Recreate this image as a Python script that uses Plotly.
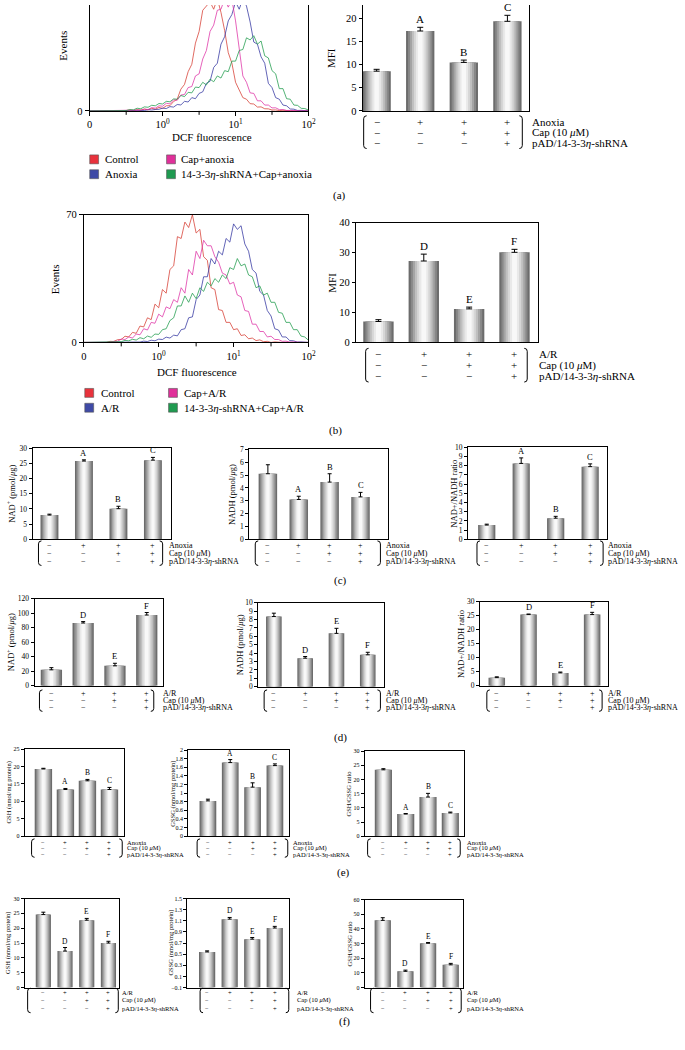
import plotly.graph_objects as go

W, H = 685, 1050
SERIF = "Liberation Serif"

# ------------------------------------------------------------------ data
dcf_log = [-1.00, -0.95, -0.90, -0.85, -0.80, -0.75, -0.70, -0.65, -0.60, -0.55,
           -0.50, -0.45, -0.40, -0.35, -0.30, -0.25, -0.20, -0.15, -0.10, -0.05,
           0.00, 0.05, 0.10, 0.15, 0.20, 0.25, 0.30, 0.35, 0.40, 0.45,
           0.50, 0.55, 0.60, 0.65, 0.70, 0.75, 0.80, 0.85, 0.90, 0.95,
           1.00, 1.05, 1.10, 1.15, 1.20, 1.25, 1.30, 1.35, 1.40, 1.45,
           1.50, 1.55, 1.60, 1.65, 1.70, 1.75, 1.80, 1.85, 1.90, 1.95, 2.00]

# panel (a) histograms (events; visible top of frame = 100)
a_control = [0, 0, 0, 0, 0, 0, 0, 0, 0.3, 0,
             0.4, 0.8, 0.2, 1.2, 0.6, 1.7, 0.9, 2.5, 1.5, 3.3,
             2.3, 4.8, 4.9, 8.8, 11, 20.5, 25, 37, 44, 64,
             75, 95, 99, 103, 96, 106, 93, 76, 55, 45,
             27, 20, 12.5, 11, 6.8, 6.5, 3.6, 3.8, 2.0, 1.9,
             0.8, 0.9, 0.3, 0.5, 0, 0.2, 0, 0, 0, 0, 0]
a_anoxia = [0, 0, 0, 0, 0, 0, 0, 0, 0, 0,
            0, 0, 0.2, 0.3, 0.6, 0.3, 1.1, 0.8, 1.3, 1.5,
            2.6, 2.2, 4.0, 3.6, 6.0, 5.6, 9.0, 8.4, 12.5, 11.5,
            16.5, 18, 26, 28, 41, 45, 63, 70, 85, 91,
            103, 96, 106, 99, 84, 65, 63, 51, 45, 26,
            22, 12.5, 11, 5.5, 4.8, 1.8, 1.6, 0.4, 0.5, 0, 0]
a_cap = [0, 0, 0, 0, 0, 0, 0, 0, 0, 0,
         0, 0.4, 0.3, 0.7, 0.8, 1.7, 1.3, 3.0, 2.6, 4.8,
         4.4, 7.2, 6.6, 10.5, 10, 15, 15.5, 22, 23, 33,
         35, 49, 57, 75, 81, 95, 96, 106, 98, 105,
         85, 58, 33, 27, 17, 16.5, 9.5, 9.5, 5.5, 5.5,
         2.8, 2.9, 1.2, 1.3, 0.4, 0.5, 0, 0.2, 0, 0, 0]
a_shrna = [0, 0, 0, 0, 0, 0, 0, 0, 0, 0.4,
           0.3, 1.2, 1.0, 2.5, 2.0, 3.8, 3.4, 5.3, 4.8, 7.0,
           6.5, 9.0, 8.6, 11.3, 11, 14.5, 13.5, 17.5, 17, 22.5,
           22, 27, 24.5, 30, 27.5, 33, 31, 38, 37, 47,
           47, 57, 58, 69, 67, 71, 63, 66, 52, 50,
           38, 35, 21, 21, 11.5, 11, 5.5, 5.2, 2.4, 2.2, 0.8]

# panel (b) histograms (events, 0-70)
b_control = [0, 0, 0, 0, 0, 0, 0, 0.6, 0.5, 1.5,
             1.6, 3.4, 3.0, 5.5, 5.0, 9.0, 8.5, 13.5, 12.5, 21,
             19, 29, 27, 40, 42, 58, 57, 66, 63, 70,
             60, 62, 47, 45, 30, 29, 18, 17.5, 11, 11,
             7, 7.5, 3.8, 4.2, 2.0, 2.4, 1.0, 1.4, 0.4, 0.6,
             0, 0.3, 0, 0, 0, 0, 0, 0, 0, 0, 0]
b_ar = [0, 0, 0, 0, 0, 0, 0, 0, 0, 0,
        0, 0, 0, 0, 0.3, 0.2, 0.7, 0.5, 1.2, 0.9,
        1.8, 1.6, 2.9, 2.4, 4.0, 3.6, 7.0, 7.5, 13.5, 14,
        23.5, 26, 36, 36, 46, 43, 50, 48, 57, 55,
        65, 62, 64, 54, 50, 40, 38, 28, 26, 17.5,
        14.5, 7.5, 6.8, 3, 3, 1, 0.9, 0.2, 0.3, 0, 0]
b_cap = [0, 0, 0, 0, 0, 0, 0, 0, 0.6, 0.6,
         1.9, 1.6, 3.0, 2.4, 4.6, 4.2, 7.5, 6.8, 11, 10.5,
         15.5, 14, 19.5, 18.5, 23.5, 22, 30, 27, 40, 37,
         50, 46, 56, 53, 53, 47, 44, 38, 37, 32,
         33, 26, 25, 17.5, 17, 10, 10, 6, 6, 3,
         3.4, 1.6, 1.6, 0.6, 0.7, 0.2, 0.3, 0, 0, 0, 0]
b_shrna = [0, 0, 0, 0, 0, 0, 0, 0, 0, 0.4,
           0.4, 1.1, 0.9, 1.7, 1.3, 2.6, 2.0, 3.5, 2.8, 4.6,
           4.4, 7, 7.5, 12, 13.5, 20, 20, 25.5, 22, 27,
           24, 30, 28, 33, 31, 35, 33, 37, 35, 41,
           40, 46, 42, 43, 37, 36, 30, 31, 26, 27,
           22, 22, 16.5, 16, 11, 11, 7, 7, 3.5, 3.0, 1.2]

hist_a_names = ["Control", "Anoxia", "Cap+anoxia", "14-3-3<i>η</i>-shRNA+Cap+anoxia"]
hist_b_names = ["Control", "A/R", "Cap+A/R", "14-3-3<i>η</i>-shRNA+Cap+A/R"]
hist_tickvals = [0.1, 1, 10, 100]
hist_ticktext = ["0", "10<sup>0</sup>", "10<sup>1</sup>", "10<sup>2</sup>"]

# bar panels: values, errors, letters
mfi_a = [8.6, 17.3, 10.5, 19.4];       mfi_a_err = [0.4, 0.8, 0.5, 1.3]
mfi_b = [7.0, 27.2, 11.2, 30.1];       mfi_b_err = [0.6, 2.3, 0.6, 1.0]
nad_c = [8.0, 25.8, 10.1, 26.1];       nad_c_err = [0.3, 0.4, 0.8, 0.9]
nadh_c = [5.1, 3.1, 4.45, 3.3];        nadh_c_err = [0.7, 0.25, 0.65, 0.35]
ratio_c = [1.55, 8.25, 2.3, 7.9];      ratio_c_err = [0.1, 0.6, 0.2, 0.3]
nad_d = [22.0, 86.5, 27.5, 97.5];      nad_d_err = [3.0, 2.0, 3.5, 3.5]
nadh_d = [8.35, 3.4, 6.35, 3.8];       nadh_d_err = [0.4, 0.2, 0.6, 0.3]
ratio_d = [2.9, 25.4, 4.6, 25.4];      ratio_d_err = [0.3, 0.2, 0.3, 0.8]
gsh_e = [19.3, 13.4, 15.9, 13.4];      gsh_e_err = [0.2, 0.3, 0.4, 0.6]
gssg_e = [0.82, 1.71, 1.14, 1.64];     gssg_e_err = [0.04, 0.07, 0.1, 0.04]
ratio_e = [23.4, 7.8, 13.8, 8.2];      ratio_e_err = [0.4, 0.2, 1.3, 0.3]
gsh_f = [24.6, 12.3, 22.7, 15.0];      gsh_f_err = [0.8, 1.2, 0.6, 0.6]
gssg_f = [0.54, 1.13, 0.77, 0.97];     gssg_f_err = [0.02, 0.03, 0.03, 0.03]
ratio_f = [45.8, 11.1, 30.2, 15.5];    ratio_f_err = [1.8, 0.8, 0.5, 1.0]

letters_anoxia = ["", "A", "B", "C"]
letters_ar = ["", "D", "E", "F"]
cond_signs = [["−", "+", "+", "+"], ["−", "−", "+", "+"], ["−", "−", "−", "+"]]
cond_anoxia = ["Anoxia", "Cap (10 <i>μ</i>M)", "pAD/14-3-3<i>η</i>-shRNA"]
cond_ar = ["A/R", "Cap (10 <i>μ</i>M)", "pAD/14-3-3<i>η</i>-shRNA"]

# ------------------------------------------------------------------ helpers
fig = go.Figure()
ann = []
shp = []
naxes = [0]


def PX(x):
    return x / W


def PY(y):
    return 1 - y / H


def add_text(x, y, s, size, xanchor="center", yanchor="middle", angle=0):
    ann.append(dict(
        x=PX(x), y=PY(y), xref="paper", yref="paper", text=s, showarrow=False,
        textangle=angle, xanchor=xanchor, yanchor=yanchor, borderpad=0,
        font=dict(family=SERIF, size=size, color="black")))


def new_axes(box, xaxis, yaxis):
    naxes[0] += 1
    n = naxes[0]
    s = "" if n == 1 else str(n)
    L, T, R, B = box
    xaxis = dict(xaxis, domain=[PX(L), PX(R)], anchor="y" + s)
    yaxis = dict(yaxis, domain=[PY(B), PY(T)], anchor="x" + s)
    fig.update_layout(**{"xaxis" + s: xaxis, "yaxis" + s: yaxis})
    return "x" + s, "y" + s


def vline(x, y0, y1, w=1):
    shp.append(dict(type="line", xref="paper", yref="paper", x0=PX(x), x1=PX(x),
                    y0=PY(y0), y1=PY(y1), line=dict(color="black", width=w)))


def bracket(x, y0, y1, side):
    d = 3 if side == "left" else -3
    path = (f"M {PX(x + d)},{PY(y0)} Q {PX(x)},{PY(y0)} {PX(x)},{PY(y0 + 3)} "
            f"L {PX(x)},{PY(y1 - 3)} Q {PX(x)},{PY(y1)} {PX(x + d)},{PY(y1)}")
    shp.append(dict(type="path", path=path, xref="paper", yref="paper",
                    line=dict(color="black", width=1)))


LAYERS = [(1.00, "#6c6c6c"), (0.86, "#888888"), (0.72, "#a4a4a4"), (0.58, "#bfbfbf"),
          (0.44, "#d6d6d6"), (0.30, "#e9e9e9"), (0.16, "#f8f8f8")]


def bar_panel(vals, errs, letters, box, xr, yr, dtick, barw, tfs, lfs, ylabel, ylab_dx,
              ylab_fs, rows_y, row_labels, lab_x, row_fs, brk, base=0.0, tick0=0,
              top_line=True, errw=2):
    L, T, R, B = box
    xref, yref = new_axes(
        box,
        dict(range=xr, showticklabels=False, ticks="", showgrid=False, zeroline=False,
             showline=True, linecolor="black", linewidth=1, mirror=top_line, fixedrange=True),
        dict(range=yr, tick0=tick0, dtick=dtick, tickmode="linear", ticks="outside",
             ticklen=3, tickwidth=1, tickcolor="black", showgrid=False, zeroline=False,
             showline=True, linecolor="black", linewidth=1, mirror=True,
             tickfont=dict(family=SERIF, size=tfs, color="black"), fixedrange=True))
    cats = list(range(len(vals)))
    for i, (f, c) in enumerate(LAYERS):
        last = i == len(LAYERS) - 1
        fig.add_trace(go.Bar(
            x=cats, y=[v - base for v in vals], base=base, width=barw * f,
            marker=dict(color=c, line=dict(width=0)), xaxis=xref, yaxis=yref,
            showlegend=False, hoverinfo="skip",
            error_y=dict(type="data", array=errs, arrayminus=[0] * len(errs),
                         symmetric=False, color="black", thickness=1, width=errw,
                         visible=last)))
    for i, (v, e, t) in enumerate(zip(vals, errs, letters)):
        if t:
            ann.append(dict(x=i, y=v + e, xref=xref, yref=yref, text=t, showarrow=False,
                            yanchor="bottom", yshift=1, borderpad=0,
                            font=dict(family=SERIF, size=lfs, color="black")))
    add_text(L - ylab_dx, (T + B) / 2, ylabel, ylab_fs, angle=-90)
    for r, row in enumerate(cond_signs):
        for i, s in enumerate(row):
            ann.append(dict(x=i, y=PY(rows_y[r]), xref=xref, yref="paper", text=s,
                            showarrow=False, borderpad=0, yanchor="middle",
                            font=dict(family=SERIF, size=row_fs, color="black")))
        add_text(lab_x, rows_y[r], row_labels[r], row_fs, xanchor="left")
    gap = (rows_y[1] - rows_y[0]) * 0.55
    bracket(brk[0], rows_y[0] - gap, rows_y[2] + gap, "left")
    bracket(brk[1], rows_y[0] - gap, rows_y[2] + gap, "right")


def hist_panel(box, yr, ytickvals, yticktext, series, top_line):
    L, T, R, B = box
    xref, yref = new_axes(
        box,
        dict(type="log", range=[-1, 2], tickvals=hist_tickvals, ticktext=hist_ticktext,
             ticks="outside", ticklen=4, tickcolor="black",
             showline=True, linecolor="black", linewidth=1, mirror=top_line,
             showgrid=False, zeroline=False, fixedrange=True,
             tickfont=dict(family=SERIF, size=10.5, color="black")),
        dict(range=yr, tickvals=ytickvals, ticktext=yticktext, ticks="outside", ticklen=4,
             tickcolor="black", showline=True, linecolor="black", linewidth=1, mirror=True,
             showgrid=False, zeroline=False, fixedrange=True,
             tickfont=dict(family=SERIF, size=10.5, color="black")))
    # half-decade minor ticks
    dec = (R - L) / 3.0
    for k in range(3):
        vline(L + (k + 0.5) * dec, B, B + 4)
    xs = [10 ** v for v in dcf_log]
    for ys, col in series:
        fig.add_trace(go.Scatter(x=xs, y=ys, mode="lines", xaxis=xref, yaxis=yref,
                                 line=dict(color=col, width=0.9), showlegend=False,
                                 hoverinfo="skip"))


LINE_COLS = ["rgba(214,60,50,0.85)", "rgba(50,52,160,0.85)",
             "rgba(222,50,165,0.85)", "rgba(30,155,75,0.85)"]
LEG_COLS = ["#e8323c", "#3f4aa6", "#e0309a", "#1f9a50"]


def legend(names, x1, x2, tx1, tx2, y1, y2):
    pos = [(x1, tx1, y1), (x1, tx1, y2), (x2, tx2, y1), (x2, tx2, y2)]
    for (sx, tx, y), name, col in zip(pos, names, LEG_COLS):
        shp.append(dict(type="rect", xref="paper", yref="paper",
                        x0=PX(sx), x1=PX(sx + 9), y0=PY(y + 4.5), y1=PY(y - 4.5),
                        fillcolor=col, line=dict(color="#555555", width=0.6)))
        add_text(tx, y, name, 11, xanchor="left")


# ------------------------------------------------------------------ panel (a)
hist_panel((88, 0, 310, 107), [0, 100], [0], ["0"],
           [(a_control, LINE_COLS[0]), (a_anoxia, LINE_COLS[1]),
            (a_cap, LINE_COLS[2]), (a_shrna, LINE_COLS[3])], top_line=False)
add_text(60, 41, "Events", 11, angle=-90)
add_text(212, 133, "DCF fluorescence", 11)
legend(hist_a_names, 88, 166, 103, 180, 156, 171)

bar_panel(mfi_a, mfi_a_err, letters_anoxia, (365, 0, 534, 107), [-0.32, 3.5], [0, 22.93], 5,
          0.65, 10.5, 11, "MFI", 32, 11, [118, 129, 139], cond_anoxia, 536, 11,
          (366, 527), top_line=False, errw=3)
add_text(341, 193, "(a)", 11)

# ------------------------------------------------------------------ panel (b)
hist_panel((82, 212, 310, 341), [0, 70], [0, 70], ["0", "70"],
           [(b_control, LINE_COLS[0]), (b_ar, LINE_COLS[1]),
            (b_cap, LINE_COLS[2]), (b_shrna, LINE_COLS[3])], top_line=True)
add_text(53, 277, "Events", 11, angle=-90)
add_text(197, 371, "DCF fluorescence", 11)
legend(hist_b_names, 83, 168, 98, 183, 392, 407)

bar_panel(mfi_b, mfi_b_err, letters_ar, (358, 220, 543, 341), [-0.5, 3.52], [0, 40], 10,
          0.67, 10.5, 11, "MFI", 25, 11, [353, 364, 375], cond_ar, 543, 11,
          (368, 532), errw=3)
add_text(337, 430, "(b)", 11)

# ------------------------------------------------------------------ panel (c)
yl_nad = "NAD<sup>+</sup> (pmol/<i>μ</i>g)"
yl_nadh = "NADH (pmol/<i>μ</i>g)"
yl_ratio = "NAD+/NADH ratio"
bar_panel(nad_c, nad_c_err, letters_anoxia, (30, 448, 170, 540), [-0.49, 3.51], [0, 30], 5,
          0.52, 7.5, 8.5, yl_nad, 21, 8.5, [546, 554, 562], cond_anoxia, 167, 8, (36, 162))
bar_panel(nadh_c, nadh_c_err, letters_anoxia, (250, 449, 391, 540), [-0.6, 3.9], [0, 7], 1,
          0.6, 7.5, 8.5, yl_nadh, 17, 8.5, [546, 554, 562], cond_anoxia, 388, 8, (256, 383))
bar_panel(ratio_c, ratio_c_err, letters_anoxia, (472, 447, 613, 540), [-0.54, 3.49], [0, 10], 1,
          0.5, 7.5, 8.5, yl_ratio, 14, 8.5, [546, 554, 562], cond_anoxia, 613, 8, (481, 609))
add_text(342, 582, "(c)", 11)

# ------------------------------------------------------------------ panel (d)
bar_panel(nad_d, nad_d_err, letters_ar, (32, 600, 162, 688), [-0.53, 3.5], [0, 120], 20,
          0.67, 7.5, 8.5, yl_nad, 24, 8.5, [696, 703, 710], cond_ar, 161, 8, (37, 153))
bar_panel(nadh_d, nadh_d_err, letters_ar, (259, 604, 387, 689), [-0.5, 3.53], [0, 10], 1,
          0.5, 7.5, 8.5, yl_nadh, 19, 8.5, [696, 703, 710], cond_ar, 388, 8, (265, 383))
bar_panel(ratio_d, ratio_d_err, letters_ar, (484, 603, 614, 688), [-0.53, 3.5], [0, 30], 5,
          0.52, 7.5, 8.5, yl_ratio, 19, 8.5, [696, 703, 710], cond_ar, 613, 8, (491, 608))
add_text(342, 740, "(d)", 11)

# ------------------------------------------------------------------ panel (e)
yl_gsh = "GSH (nmol/mg protein)"
yl_gssg = "GSSG (nmol/mg protein)"
yl_gratio = "GSH/GSSG ratio"
bar_panel(gsh_e, gsh_e_err, letters_anoxia, (22, 752, 123, 840), [-0.85, 3.67], [0, 25], 5,
          0.79, 6, 7.5, yl_gsh, 16, 6.5, [846, 852, 858], cond_anoxia, 125, 6.5, (29, 121))
bar_panel(gssg_e, gssg_e_err, letters_anoxia, (188, 753, 290, 840), [-0.88, 3.62], [0, 2], 0.2,
          0.75, 6, 7.5, yl_gssg, 15, 6.5, [846, 852, 858], cond_anoxia, 293, 6.5, (197, 289))
bar_panel(ratio_e, ratio_e_err, letters_anoxia, (367, 754, 468, 840), [-0.84, 3.62], [0, 30], 5,
          0.77, 6, 7.5, yl_gratio, 16, 6.5, [846, 852, 858], cond_anoxia, 470, 6.5, (370, 464))
add_text(346, 877, "(e)", 11)

# ------------------------------------------------------------------ panel (f)
bar_panel(gsh_f, gsh_f_err, letters_ar, (22, 903, 118, 993), [-0.86, 3.5], [0, 30], 5,
          0.7, 6, 7.5, yl_gsh, 17, 6.5, [998, 1006, 1014], cond_ar, 120, 6.5, (25, 117))
bar_panel(gssg_f, gssg_f_err, letters_ar, (187, 903, 290, 993), [-0.88, 3.62], [-0.1, 1.5], 0.2,
          0.72, 6, 7.5, yl_gssg, 16, 6.5, [998, 1006, 1014], cond_ar, 297, 6.5, (200, 290),
          base=-0.1, tick0=-0.1)
bar_panel(ratio_f, ratio_f_err, letters_ar, (367, 904, 467, 993), [-0.8, 3.55], [0, 60], 10,
          0.72, 6, 7.5, yl_gratio, 15, 6.5, [998, 1006, 1014], cond_ar, 470, 6.5, (373, 465))
add_text(347, 1027, "(f)", 11)

fig.update_layout(
    width=W, height=H, margin=dict(l=0, r=0, t=0, b=0),
    paper_bgcolor="white", plot_bgcolor="white", barmode="overlay",
    annotations=ann, shapes=shp, showlegend=False,
    font=dict(family=SERIF, color="black"))

fig.write_html("out.html", config={"displayModeBar": False},
               post_script="document.body.style.margin='0';")
